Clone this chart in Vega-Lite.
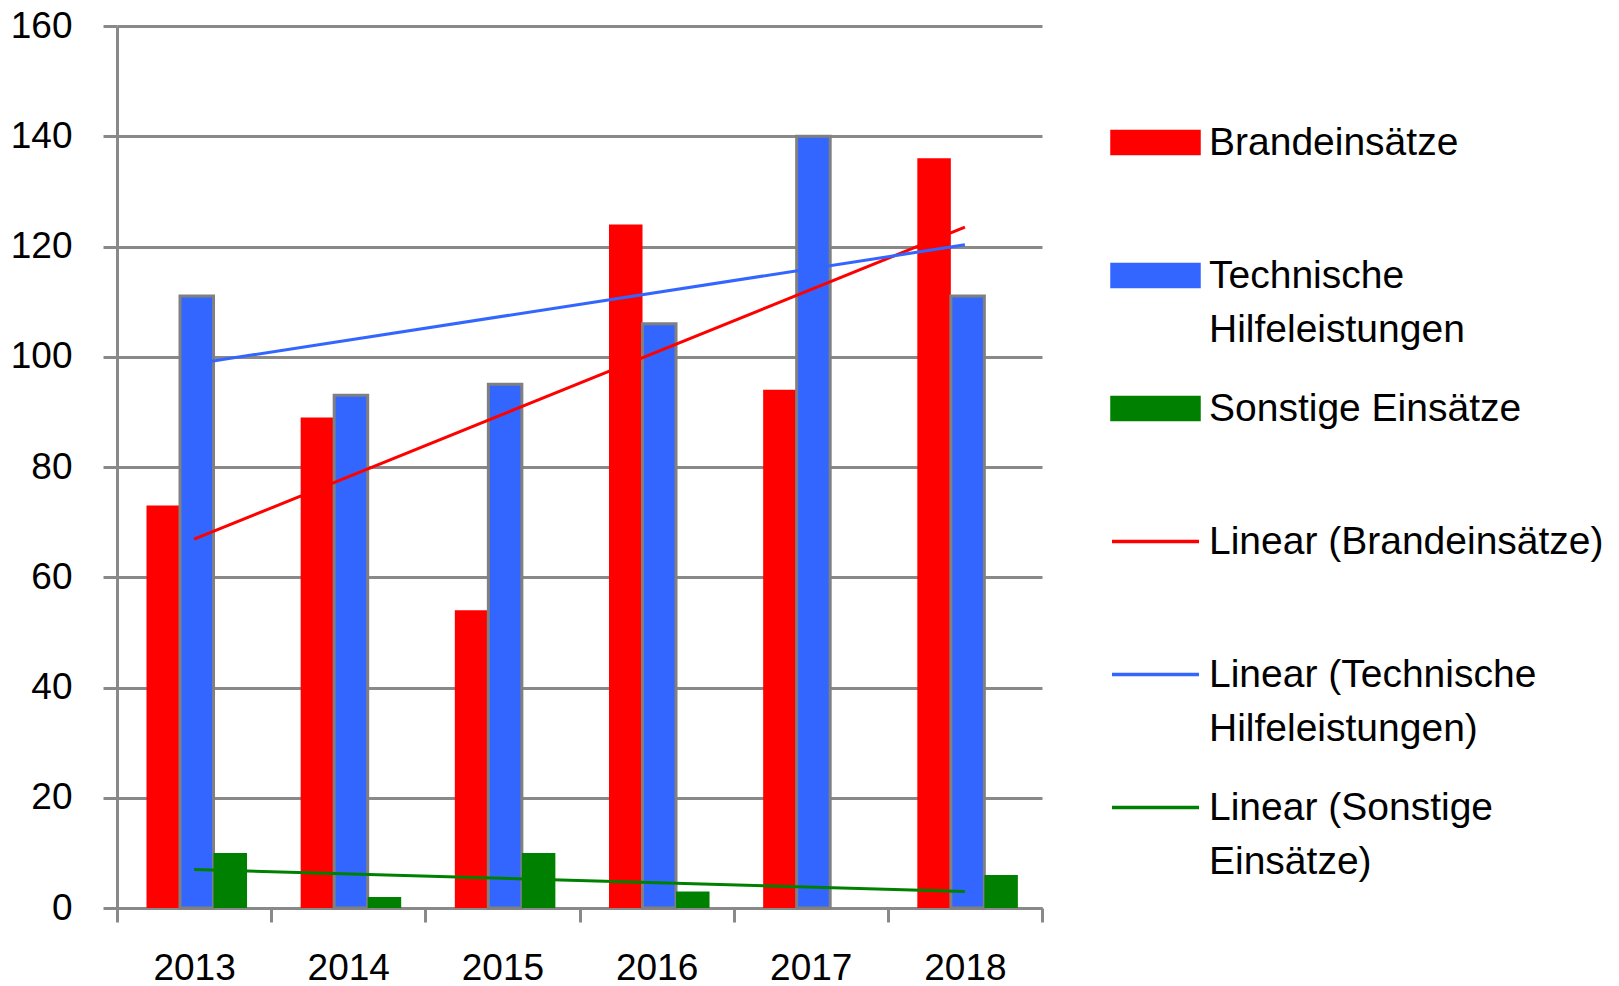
{
  "$schema": "https://vega.github.io/schema/vega-lite/v6.json",
  "width": 925,
  "height": 882,
  "autosize": {"type": "none"},
  "padding": {"left": 117, "top": 26, "right": 577, "bottom": 78},
  "background": "white",
  "config": {"view": {"stroke": null}, "font": "Liberation Sans"},
  "datasets": {
    "bars": [
      {"year": 2013, "series": "Brandeinsätze", "value": 73},
      {"year": 2014, "series": "Brandeinsätze", "value": 89},
      {"year": 2015, "series": "Brandeinsätze", "value": 54},
      {"year": 2016, "series": "Brandeinsätze", "value": 124},
      {"year": 2017, "series": "Brandeinsätze", "value": 94},
      {"year": 2018, "series": "Brandeinsätze", "value": 136},
      {"year": 2013, "series": "Technische Hilfeleistungen", "value": 111},
      {"year": 2014, "series": "Technische Hilfeleistungen", "value": 93},
      {"year": 2015, "series": "Technische Hilfeleistungen", "value": 95},
      {"year": 2016, "series": "Technische Hilfeleistungen", "value": 106},
      {"year": 2017, "series": "Technische Hilfeleistungen", "value": 140},
      {"year": 2018, "series": "Technische Hilfeleistungen", "value": 111},
      {"year": 2013, "series": "Sonstige Einsätze", "value": 10},
      {"year": 2014, "series": "Sonstige Einsätze", "value": 2},
      {"year": 2015, "series": "Sonstige Einsätze", "value": 10},
      {"year": 2016, "series": "Sonstige Einsätze", "value": 3},
      {"year": 2017, "series": "Sonstige Einsätze", "value": 0},
      {"year": 2018, "series": "Sonstige Einsätze", "value": 6}
    ],
    "trends": [
      {"year": 2013, "series": "Linear (Brandeinsätze)", "value": 66.9},
      {"year": 2018, "series": "Linear (Brandeinsätze)", "value": 123.5},
      {"year": 2013, "series": "Linear (Technische Hilfeleistungen)", "value": 98.7},
      {"year": 2018, "series": "Linear (Technische Hilfeleistungen)", "value": 120.3},
      {"year": 2013, "series": "Linear (Sonstige Einsätze)", "value": 7.0},
      {"year": 2018, "series": "Linear (Sonstige Einsätze)", "value": 3.0}
    ]
  },
  "layer": [
    {
      "data": {"name": "bars"},
      "mark": {"type": "bar", "strokeWidth": 3},
      "encoding": {
        "x": {
          "field": "year", "type": "nominal",
          "scale": {"paddingInner": 0, "paddingOuter": 0},
          "axis": {
            "title": null, "labelAngle": 0, "tickBand": "extent",
            "tickSize": 14, "tickWidth": 3, "tickColor": "#898989",
            "domainColor": "#898989", "domainWidth": 3,
            "labelFontSize": 37, "labelColor": "black", "labelPadding": 28
          }
        },
        "xOffset": {
          "field": "series", "type": "nominal",
          "sort": ["Brandeinsätze", "Technische Hilfeleistungen", "Sonstige Einsätze"],
          "scale": {"paddingInner": 0, "paddingOuter": 0.8, "align": 0.55}
        },
        "y": {
          "field": "value", "type": "quantitative",
          "scale": {"domain": [0, 160], "nice": false},
          "axis": {
            "title": null, "values": [0, 20, 40, 60, 80, 100, 120, 140, 160],
            "grid": true, "gridColor": "#898989", "gridWidth": 3,
            "domainColor": "#898989", "domainWidth": 3,
            "tickColor": "#898989", "tickWidth": 3, "tickSize": 14,
            "labelFontSize": 37, "labelColor": "black", "labelPadding": 31
          }
        },
        "color": {
          "field": "series", "type": "nominal",
          "scale": {
            "domain": ["Brandeinsätze", "Technische Hilfeleistungen", "Sonstige Einsätze", "Linear (Brandeinsätze)", "Linear (Technische Hilfeleistungen)", "Linear (Sonstige Einsätze)"],
            "range": ["#FF0000", "#3366FF", "#008000", "#FF0000", "#3366FF", "#008000"]
          },
          "legend": {
            "orient": "none", "legendX": 993, "legendY": 71,
            "title": null, "padding": 0, "gridAlign": "all", "rowPadding": 13,
            "labelFontSize": 39, "labelColor": "black", "labelLimit": 460, "labelOffset": 8,
            "symbolSize": 7569, "symbolStrokeWidth": 3,
            "labelExpr": "datum.label === 'Technische Hilfeleistungen' ? ['Technische', 'Hilfeleistungen'] : datum.label === 'Linear (Technische Hilfeleistungen)' ? ['Linear (Technische', 'Hilfeleistungen)'] : datum.label === 'Linear (Sonstige Einsätze)' ? ['Linear (Sonstige', 'Einsätze)'] : datum.label",
            "encoding": {
              "symbols": {
                "shape": {"value": {"expr": "indexof(datum.value, 'Linear') === 0 ? 'stroke' : 'M-1,-0.253H1V0.253H-1Z'"}},
                "fill": {"value": {"expr": "indexof(datum.value, 'Linear') === 0 ? 'transparent' : (datum.value === 'Brandeinsätze' ? '#FF0000' : datum.value === 'Technische Hilfeleistungen' ? '#3366FF' : '#008000')"}},
                "stroke": {"value": {"expr": "datum.value === 'Technische Hilfeleistungen' ? '#808080' : datum.value === 'Linear (Brandeinsätze)' ? '#FF0000' : datum.value === 'Linear (Technische Hilfeleistungen)' ? '#3366FF' : datum.value === 'Linear (Sonstige Einsätze)' ? '#008000' : 'transparent'"}},
                "strokeWidth": {"value": 3.5},
                "opacity": {"value": 1}
              },
              "labels": {
                "lineHeight": {"value": 54}
              }
            }
          }
        },
        "stroke": {
          "condition": {"test": "datum.series === 'Technische Hilfeleistungen'", "value": "#808080"},
          "value": "transparent"
        }
      }
    },
    {
      "data": {"name": "trends"},
      "mark": {"type": "line", "strokeWidth": 3},
      "encoding": {
        "x": {"field": "year", "type": "nominal"},
        "y": {"field": "value", "type": "quantitative"},
        "color": {"field": "series", "type": "nominal"}
      }
    }
  ]
}
